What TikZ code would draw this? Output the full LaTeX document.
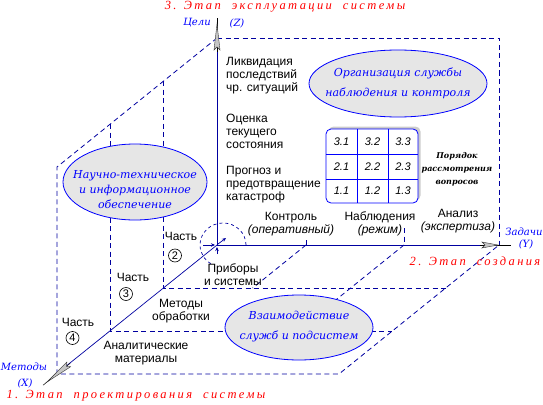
\documentclass[tikz,border=0pt]{standalone}
\usepackage{fontspec}
\setmainfont{Liberation Sans}
\newfontfamily\deco{DejaVu Serif}
\newfontfamily\redfont[LetterSpace=19]{Liberation Serif}
\usetikzlibrary{arrows.meta,shapes.geometric}
\definecolor{navy}{RGB}{0,0,160}
\definecolor{tblue}{RGB}{0,0,255}
\definecolor{ellfill}{RGB}{230,230,230}
\definecolor{tred}{RGB}{255,0,0}
\newcommand\penarrow[5]{\begin{scope}[shift={(#1,#2)},rotate=#3]
  \draw[black,line width=0.5pt] (-#4-2,0) -- (#5,0);
  \filldraw[fill=gray!45,draw=black!80,line width=0.4pt] (0,0) -- (-#4,3) -- (-#4+3,0) -- (-#4,-3) -- cycle;
\end{scope}}
\begin{document}
\begin{tikzpicture}[x=1pt,y=-1pt,
  dl/.style={navy,dash pattern=on 5pt off 3.5pt,line width=0.8pt},
  axisline/.style={navy,line width=0.9pt},
  ell/.style={ellipse,draw=tblue,fill=ellfill,line width=0.8pt,inner sep=0pt},
  etext/.style={font=\deco\itshape\fontsize{11}{20}\selectfont,text=tblue,align=center,inner sep=0pt},
  btext/.style={font=\fontsize{12}{13}\selectfont,inner sep=0pt},
  lbl/.style={font=\deco\itshape\fontsize{10}{12}\selectfont,text=tblue,inner sep=0pt},
  redt/.style={font=\redfont\itshape\fontsize{12.5}{14}\selectfont,text=tred,inner sep=0pt},
  cell/.style={font=\itshape\fontsize{11}{12}\selectfont,inner sep=0pt},
  num/.style={circle,draw=black,line width=0.6pt,minimum size=13pt,inner sep=0pt,font=\fontsize{11}{12}\selectfont},
  small/.style={navy,line width=0.7pt,-{Stealth[length=4pt,width=3.5pt]}}]
\useasboundingbox (0,0) rectangle (543,404);
% key coordinates
\coordinate (O) at (217,245);
\coordinate (Zb) at (217,50);
\coordinate (Yb) at (482,245);
\coordinate (Xb) at (65,367);
\coordinate (T) at (217,38);
\coordinate (TR) at (499,38);
\coordinate (YR) at (499,245);
\coordinate (TL) at (57,167);
\coordinate (FL) at (57,374);
\coordinate (FR) at (339,374);
% dashed box
\draw[dl] (T) -- (TR) -- (YR);
\draw[dl] (T) -- (TL) -- (FL) -- (FR) -- (YR);
\draw[dl] (163.7,81) -- (163.7,288) -- (445.7,288);
\draw[dl] (110.3,124) -- (110.3,331) -- (392.3,331);
\draw[dl] (306,245) -- (252.7,288);
\draw[dl] (404,245) -- (297.3,331);
\draw[dl] (404,228) -- (404,245);
\draw[navy,line width=0.8pt] (306,240) -- (306,245);
% dashed circle at origin
\draw[dl,dash pattern=on 3pt off 3pt,line width=0.7pt] (246,245) arc[start angle=0,end angle=240,x radius=23pt,y radius=22pt];
% axes
\draw[axisline] (O) -- (Zb);
\draw[axisline] (O) -- (Yb);
\draw[navy,line width=0.7pt] (O) -- (Xb);
\penarrow{217}{24}{90}{26}{6}
\penarrow{498}{245}{0}{16}{13}
\penarrow{47}{382}{219}{28}{5}
% small arrows at origin
\draw[small] (203,245) -- (215,245);
\draw[small] (218,244) -- (226,238);
\draw[small] (217,254) -- (217,247);
% ellipses
\node[ell,minimum width=178pt,minimum height=67pt] (e1) at (398,83.5) {};
\node[etext] (e1t) at (398,83) {Организация службы\\наблюдения и контроля};
\node[ell,minimum width=144pt,minimum height=76pt] (e2) at (135,182) {};
\node[etext,font=\deco\itshape\fontsize{11}{15}\selectfont] (e2t) at (135,190) {Научно-техническое\\и информационное\\обеспечение};
\node[ell,minimum width=148pt,minimum height=65pt] (e3) at (299,327.5) {};
\node[etext] (e3t) at (299,327) {Взаимодействие\\служб и подсистем};
% table
\fill[gray!40,rounded corners=5pt] (328.5,126.5) rectangle (420.5,200.5);
\draw[tblue,fill=white,line width=0.8pt,rounded corners=5pt] (326,129) rectangle (418,203);
\draw[tblue,line width=0.8pt] (357,129) -- (357,203) (388,129) -- (388,203) (326,154) -- (418,154) (326,179) -- (418,179);
\node[cell] (c31) at (341.5,141.5) {3.1};
\node[cell] (c32) at (372.5,141.5) {3.2};
\node[cell] (c33) at (403,141.5) {3.3};
\node[cell] (c21) at (341.5,166.5) {2.1};
\node[cell] (c22) at (372.5,166.5) {2.2};
\node[cell] (c23) at (403,166.5) {2.3};
\node[cell] (c11) at (341.5,191) {1.1};
\node[cell] (c12) at (372.5,191) {1.2};
\node[cell] (c13) at (403,191) {1.3};
\node[font=\deco\bfseries\itshape\fontsize{8}{13}\selectfont,align=center,inner sep=0pt] (order) at (457,169) {Порядок\\рассмотрения\\вопросов};
% Z-side texts
\node[btext,anchor=west,align=left] (z3) at (226,76) {Ликвидация\\последствий\\чр. ситуаций};
\node[btext,anchor=west,align=left] (z2) at (226,131) {Оценка\\текущего\\состояния};
\node[btext,anchor=west,align=left] (z1) at (226,185) {Прогноз и\\предотвращение\\катастроф};
% Y-side texts
\node[btext,align=center] (y1) at (291,224.5) {Контроль\\\textit{(оперативный)}};
\node[btext,align=center] (y2) at (380,224) {Наблюдения\\\textit{(режим)}};
\node[btext,align=center] (y3) at (458,221) {Анализ\\\textit{(экспертиза)}};
% X-side texts
\node[btext,align=center] (x1) at (233,275) {Приборы\\и системы};
\node[btext,align=center] (x2) at (181,311.5) {Методы\\обработки};
\node[btext,align=center] (x3) at (146,353) {Аналитические\\материалы};
\node[btext] (p2) at (181,236) {Часть};
\node[num] (n2) at (175,255.5) {2};
\node[btext] (p3) at (133,277.5) {Часть};
\node[num] (n3) at (126,294) {3};
\node[btext] (p4) at (78,322.5) {Часть};
\node[num] (n4) at (72.5,338) {4};
% axis labels
\node[lbl] (lz1) at (197,23) {Цели};
\node[lbl] (lz2) at (237,23) {(Z)};
\node[lbl] (ly1) at (524,232) {Задачи};
\node[lbl] (ly2) at (526,244) {(Y)};
\node[lbl] (lx1) at (24,367) {Методы};
\node[lbl] (lx2) at (25,383) {(X)};
% red stage titles
\node[redt] (s3) at (285,7) {3. Этап \ эксплуатации \ системы};
\node[redt] (s2) at (475,261) {2. Этап \ создания};
\node[redt] (s1) at (136,396) {1. Этап \ проектирования \ системы};
\end{tikzpicture}
\end{document}
